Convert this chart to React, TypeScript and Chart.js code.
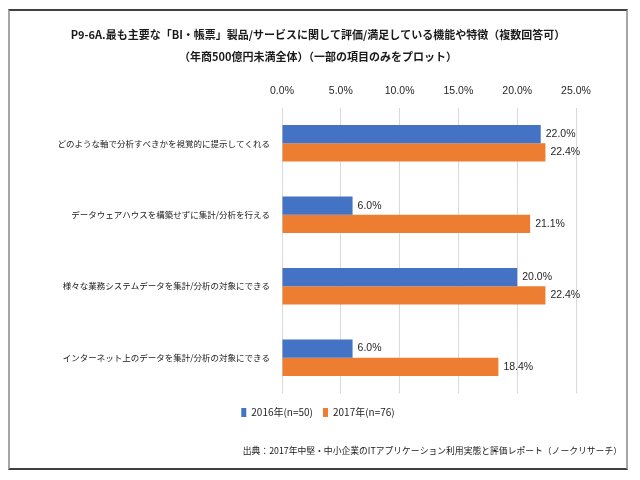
import React, { useEffect, useRef } from "react";
import { Chart, registerables } from "chart.js";

Chart.register(...registerables);

const categories = [
  "どのような軸で分析すべきかを視覚的に提示してくれる",
  "データウェアハウスを構築せずに集計/分析を行える",
  "様々な業務システムデータを集計/分析の対象にできる",
  "インターネット上のデータを集計/分析の対象にできる",
];
const series2016 = [22.0, 6.0, 20.0, 6.0];
const series2017 = [22.4, 21.1, 22.4, 18.4];
const seriesLabels = ["2016年(n=50)", "2017年(n=76)"];
const titleLines = [
  "P9-6A.最も主要な「BI・帳票」製品/サービスに関して評価/満足している機能や特徴（複数回答可）",
  "（年商500億円未満全体）（一部の項目のみをプロット）",
];
const sourceText = "出典：2017年中堅・中小企業のITアプリケーション利用実態と評価レポート（ノークリサーチ）";

const NUM_FONT = '"Liberation Sans Narrow", "Liberation Sans", "Noto Sans CJK JP", sans-serif';
const JP_FONT = '"Noto Sans CJK JP", "Liberation Sans", sans-serif';

const dataLabelPlugin = {
  id: "dataLabels",
  afterDatasetsDraw(chart: any) {
    const ctx = chart.ctx;
    ctx.save();
    ctx.font = `10.5px ${NUM_FONT}`;
    ctx.fillStyle = "#262626";
    ctx.textAlign = "left";
    ctx.textBaseline = "middle";
    chart.data.datasets.forEach((ds: any, i: number) => {
      const meta = chart.getDatasetMeta(i);
      meta.data.forEach((bar: any, j: number) => {
        const v = ds.data[j] as number;
        ctx.fillText(v.toFixed(1) + "%", bar.x + 5, bar.y);
      });
    });
    ctx.restore();
  },
};

export default function App() {
  const ref = useRef<HTMLCanvasElement>(null);
  useEffect(() => {
    if (!ref.current) return;
    const chart = new Chart(ref.current, {
      type: "bar",
      data: {
        labels: categories,
        datasets: [
          {
            label: seriesLabels[0],
            data: series2016,
            backgroundColor: "#4472C4",
            barPercentage: 1,
            categoryPercentage: 0.51,
          },
          {
            label: seriesLabels[1],
            data: series2017,
            backgroundColor: "#ED7D31",
            barPercentage: 1,
            categoryPercentage: 0.51,
          },
        ],
      },
      options: {
        indexAxis: "y",
        animation: false,
        responsive: false,
        layout: { padding: { left: 4, right: 4, top: 4, bottom: 12 } },
        scales: {
          x: {
            position: "top",
            min: 0,
            max: 25,
            ticks: {
              stepSize: 5,
              padding: 10,
              color: "#262626",
              font: { family: NUM_FONT, size: 10.5 },
              callback: (v: any) => Number(v).toFixed(1) + "%",
            },
            grid: { color: "#d9d9d9", drawTicks: false },
            border: { display: false },
          },
          xPad: {
            type: "linear",
            position: "bottom",
            display: true,
            grid: { display: false },
            border: { display: false },
            ticks: { display: false },
            afterFit: (s: any) => {
              s.height = 4;
            },
          },
          y: {
            ticks: {
              padding: 4,
              color: "#1a1a1a",
              font: { family: JP_FONT, size: 8.5 },
            },
            grid: { display: false },
            border: { display: false },
            afterFit: (s: any) => {
              s.width = 268;
            },
          },
          yPad: {
            type: "linear",
            position: "right",
            display: true,
            grid: { display: false },
            border: { display: false },
            ticks: { display: false },
            afterFit: (s: any) => {
              s.width = 46;
            },
          },
        },
        plugins: {
          title: {
            display: true,
            text: titleLines,
            color: "#1a1a1a",
            font: { family: JP_FONT, size: 11, weight: "bold", lineHeight: 2.0 },
            padding: { top: 9, bottom: 7 },
          },
          subtitle: {
            display: true,
            text: sourceText,
            position: "bottom",
            align: "end",
            color: "#1a1a1a",
            font: { family: JP_FONT, size: 8.8 },
            padding: { top: 18, bottom: 0 },
          },
          legend: {
            position: "bottom",
            labels: {
              boxWidth: 5,
              boxHeight: 9,
              padding: 10,
              color: "#262626",
              font: { family: JP_FONT, size: 10 },
            },
          },
          tooltip: { enabled: false },
        },
      },
      plugins: [dataLabelPlugin],
    } as any);
    return () => chart.destroy();
  }, []);

  return (
    <div
      style={{
        width: 616,
        height: 457,
        marginTop: 1,
        borderTop: "2px solid #404040",
        borderBottom: "2px solid #404040",
        borderLeft: "2px solid #a6a6a6",
        borderRight: "2px solid #a6a6a6",
        background: "#fff",
      }}
    >
      <canvas ref={ref} width={616} height={457} style={{ display: "block" }} />
    </div>
  );
}
